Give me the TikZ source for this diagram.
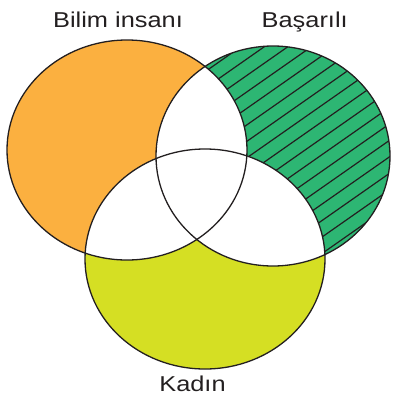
\documentclass[tikz,border=0pt]{standalone}
\usepackage{fontspec}
\newfontfamily\labfont[FakeStretch=1.18]{Liberation Sans}
\definecolor{orangeA}{HTML}{FBB040}
\definecolor{greenB}{HTML}{2DB673}
\definecolor{yellowC}{HTML}{D5DF23}
\definecolor{inkc}{HTML}{231F20}
\tikzset{
  outline/.style={draw=inkc, line width=1.3pt},
  hatchline/.style={draw=inkc, line width=1.2pt},
  lab/.style={font=\labfont\fontsize{21.5}{24}\selectfont, text=inkc, inner sep=0pt, anchor=base}
}
\newcommand{\ellA}{(127,150) ellipse [x radius=120, y radius=110]}
\newcommand{\ellB}{(273,156) ellipse [x radius=117, y radius=110]}
\newcommand{\ellC}{(205,259) ellipse [x radius=120, y radius=110]}
\begin{document}
\begin{tikzpicture}[x=1pt,y=-1pt]
\useasboundingbox (0,0) rectangle (393,400);
% base fills
\fill[orangeA] \ellA;
\fill[greenB] \ellB;
\begin{scope}
  \clip \ellB;
  \foreach \k in {-22,...,22}{
    \draw[hatchline] ({273+\k*13.5*sin(35)-260*cos(35)},{156+\k*13.5*cos(35)+260*sin(35)}) --
                     ({273+\k*13.5*sin(35)+260*cos(35)},{156+\k*13.5*cos(35)-260*sin(35)});
  }
\end{scope}
\fill[yellowC] \ellC;
% white overlaps
\begin{scope}\clip \ellA; \fill[white] \ellB; \fill[white] \ellC; \end{scope}
\begin{scope}\clip \ellB; \fill[white] \ellC; \end{scope}
% outlines
\draw[outline] \ellA;
\draw[outline] \ellB;
\draw[outline] \ellC;
% labels
\node[lab] (bilim) at (118,27.3) {Bilim insanı};
\node[lab] (basarili) at (304.7,27.3) {Başarılı};
\node[lab] (kadin) at (192.5,391.5) {Kadın};
\end{tikzpicture}
\end{document}
